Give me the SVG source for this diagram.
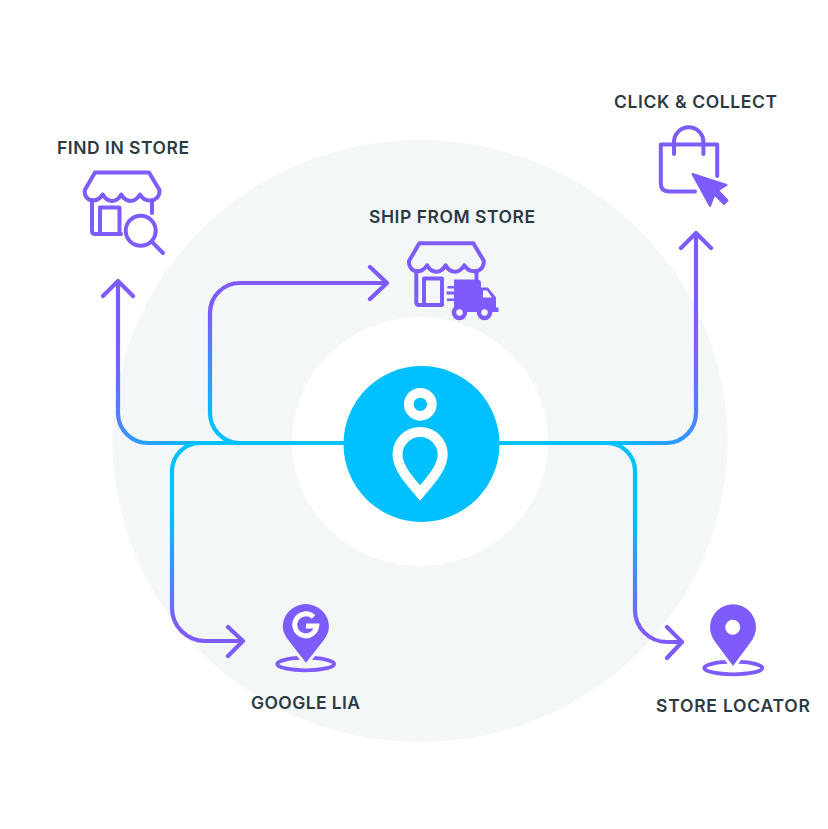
<svg xmlns="http://www.w3.org/2000/svg" width="828" height="829" viewBox="0 0 828 829">
<style>
.l{font-family:"Inter","Open Sans","Liberation Sans",sans-serif;font-size:17.5px;font-weight:600;fill:#2b3a42}
.c{fill:none;stroke-width:4.200;stroke-linecap:round;stroke-linejoin:round}
.i{fill:none;stroke:#7e5bfb;stroke-width:4;stroke-linecap:round;stroke-linejoin:round}
.f{fill:#7e5bfb}
</style>
<defs>
<linearGradient id="g1" gradientUnits="userSpaceOnUse" x1="116" y1="350" x2="206" y2="443"><stop offset="0" stop-color="#7e5bfb"/><stop offset="1" stop-color="#00c0ff"/></linearGradient>
<linearGradient id="g2" gradientUnits="userSpaceOnUse" x1="0" y1="312" x2="0" y2="415"><stop offset="0" stop-color="#7e5bfb"/><stop offset="1" stop-color="#00c0ff"/></linearGradient>
<linearGradient id="g3" gradientUnits="userSpaceOnUse" x1="0" y1="515" x2="0" y2="628"><stop offset="0" stop-color="#00c0ff"/><stop offset="1" stop-color="#7e5bfb"/></linearGradient>
<linearGradient id="g4" gradientUnits="userSpaceOnUse" x1="700" y1="350" x2="610" y2="443"><stop offset="0" stop-color="#7e5bfb"/><stop offset="1" stop-color="#00c0ff"/></linearGradient>
<path id="awn" d="M95,172.500H149L159.500,190C160,196 156,200.500 150,200.500C145,200.500 142,198 140,194.500C137.500,198.500 134,201 130.500,201C126.500,201 123.500,198.500 121.300,194.500C119,198.500 116,201 112,201C108,201 105,198.500 102.800,194.500C100,198.500 97,200.500 93,200.500C88,200.500 84,196 84.800,190Z"/>
</defs>
<rect width="828" height="829" fill="#fff"/>
<ellipse cx="420" cy="441" rx="307.500" ry="301" fill="#f4f7f8"/>
<ellipse cx="420" cy="441.500" rx="128" ry="124.500" fill="#fff"/>
<g id="connectors">
<path class="c" stroke="url(#g1)" d="M344,443H148A30,30 0 0 1 118,413V281M103,296L118,281L133,296"/>
<path class="c" stroke="url(#g2)" d="M344,443H240A30,30 0 0 1 210,413V313A30,30 0 0 1 240,283H387M370,267L387,283L370,299"/>
<path class="c" stroke="url(#g3)" d="M344,443H200A28,28 0 0 0 172,471V608A33,33 0 0 0 205,641H243M228,627L243,641L228,656"/>
<path class="c" stroke="url(#g4)" d="M499,443H666A30,30 0 0 0 696,413V233M681,248L696,233L711,248"/>
<path class="c" stroke="url(#g3)" d="M499,443H607A28,28 0 0 1 635,471V610A32,32 0 0 0 667,642H682M667,627L682,642L667,658"/>
</g>
<g id="hub">
<circle cx="421.500" cy="444" r="78" fill="#00c0ff"/>
<circle cx="420.300" cy="404.300" r="11.500" fill="none" stroke="#fff" stroke-width="9.700"/>
<path d="M420,493C410,481 397.500,468 397.500,454.600A22.600,22.600 0 0 1 442.700,454.600C442.700,468 430,481 420,493Z" fill="none" stroke="#fff" stroke-width="10"/>
</g>
<g id="find-in-store">
<text class="l" x="57" y="154" textLength="132">FIND IN STORE</text>
<use href="#awn" class="i"/>
<path class="i" d="M92,200V231Q92,234 95,234H121M100,234V207.500H119.500V234M152,202V213"/>
<circle class="i" cx="140.700" cy="230.700" r="15"/>
<path class="i" d="M151.700,241.700L163,253"/>
</g>
<g id="ship-from-store">
<text class="l" x="369" y="223" textLength="166">SHIP FROM STORE</text>
<use href="#awn" class="i" x="324.300" y="70.800"/>
<path class="i" d="M416.300,271V302Q416.300,305 419,305H442M424,305V278.500H442V305M476.500,273V279"/>
<path class="f" d="M454,279.500H477Q481,279.500 481,283V287.500H488L496,297.500V307.500H498.500V312H454V301H447V298.500H454V294.500H446.500V291.500H454V288.500H447.500V286H454Z"/>
<path d="M483,290.500H487L492,297.500H483Z" fill="#f4f7f8"/>
<circle cx="459.500" cy="312.500" r="5.500" fill="#f4f7f8" stroke="#7e5bfb" stroke-width="4.500"/>
<circle cx="484.500" cy="312.500" r="5.500" fill="#f4f7f8" stroke="#7e5bfb" stroke-width="4.500"/>
</g>
<g id="click-collect">
<text class="l" x="614" y="108.300" textLength="163">CLICK &amp; COLLECT</text>
<path class="i" d="M695,191.500H669Q660.800,191.500 660.800,183V144.500H717.200V176M674,154V142A14.700,14.700 0 0 1 703.400,142V154"/>
<path class="f" stroke="#7e5bfb" stroke-width="2" stroke-linejoin="round" d="M692.500,174L726.500,185L718,190.500L727.500,200.500L724,204L714.500,194.500L710,206Z"/>
</g>
<g id="google-lia">
<text class="l" x="251" y="708.500" textLength="109">GOOGLE LIA</text>
<ellipse cx="305.700" cy="664" rx="28.500" ry="6.300" fill="none" stroke="#7e5bfb" stroke-width="3.800"/>
<path class="f" stroke="#f4f7f8" stroke-width="6" paint-order="stroke" d="M306,662.700L289,641C285,636 282.700,631 282.700,625.700A23.200,23.200 0 0 1 329,625.700C329,631 327,636 323,641Z"/>
<path d="M313.500,617A11,11 0 1 0 316.700,626H306" fill="none" stroke="#fff" stroke-width="5"/>
</g>
<g id="store-locator">
<text class="l" x="656" y="711.700" textLength="154">STORE LOCATOR</text>
<ellipse cx="733.300" cy="668" rx="29" ry="6.300" fill="none" stroke="#7e5bfb" stroke-width="3.800"/>
<path class="f" stroke="#fff" stroke-width="6" paint-order="stroke" d="M733,666L716,643C712,638 710,633 710,627.300A23,23 0 0 1 756,627.300C756,633 754,638 750,643Z"/>
<circle cx="732.700" cy="627.300" r="7.500" fill="#fff"/>
</g>
</svg>
